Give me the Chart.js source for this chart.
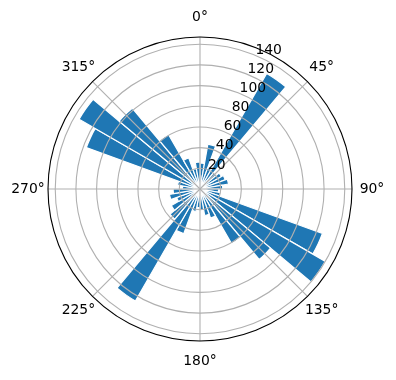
<!DOCTYPE html>
<html>
<head>
<meta charset="utf-8">
<script src="https://cdn.jsdelivr.net/npm/chart.js@4/dist/chart.umd.min.js"></script>
<style>
html,body{margin:0;padding:0;background:#fff;}
canvas{display:block;}
</style>
</head>
<body>
<canvas id="c" width="396" height="380"></canvas>
<script>
// bin centres (degrees, clockwise from north)
const directions = [5,15,25,35,45,55,65,75,85,95,105,115,125,135,145,155,165,175,
                    185,195,205,215,225,235,245,255,265,275,285,295,305,315,325,335,345,355];
// bar heights
const counts = [25,44,22,129,20,24,26,28,22,18,20,126,140,89,61,30,26,20,
                18,22,46,125,38,32,24,30,26,17,22,117,135,102,61,32,20,26];
// radial ticks
const radialTicks = [20,40,60,80,100,120,140];
// angular ticks
const angleTicks = [0,45,90,135,180,225,270,315];
const angleLabels = ['0°','45°','90°','135°','180°','225°','270°','315°'];
const rMax = 147;
const rLabelAngle = 22.5;

const font = '13.9px "DejaVu Sans"';

const overlay = {
  id: 'overlay',
  afterDatasetsDraw(chart) {
    const s = chart.scales.r;
    const ctx = chart.ctx;
    const cx = s.xCenter, cy = s.yCenter;
    const R = s.getDistanceFromCenterForValue(rMax);
    ctx.save();
    // rings
    ctx.strokeStyle = '#b0b0b0';
    ctx.lineWidth = 1.1;
    radialTicks.forEach(v => {
      const r = s.getDistanceFromCenterForValue(v);
      ctx.beginPath();
      ctx.arc(cx, cy, r, 0, Math.PI * 2);
      ctx.stroke();
    });
    // angle lines
    angleTicks.forEach(d => {
      const a = (d - 90) * Math.PI / 180;
      ctx.beginPath();
      ctx.moveTo(cx, cy);
      ctx.lineTo(cx + R * Math.cos(a), cy + R * Math.sin(a));
      ctx.stroke();
    });
    // outer spine
    ctx.strokeStyle = '#000';
    ctx.lineWidth = 1.1;
    ctx.beginPath();
    ctx.arc(cx, cy, R, 0, Math.PI * 2);
    ctx.stroke();
    // radial tick labels
    ctx.fillStyle = '#000';
    ctx.font = font;
    ctx.textAlign = 'left';
    ctx.textBaseline = 'bottom';
    const la = (rLabelAngle - 90) * Math.PI / 180;
    radialTicks.forEach(v => {
      const r = s.getDistanceFromCenterForValue(v);
      ctx.fillText(String(v), cx + r * Math.cos(la), cy + r * Math.sin(la) + 2);
    });
    // angle labels
    ctx.textAlign = 'center';
    ctx.textBaseline = 'middle';
    angleTicks.forEach((d, i) => {
      const a = (d - 90) * Math.PI / 180;
      const rr = R + 20;
      ctx.fillText(angleLabels[i], cx + rr * Math.cos(a), cy + rr * Math.sin(a));
    });
    ctx.restore();
  }
};

new Chart(document.getElementById('c'), {
  type: 'polarArea',
  data: {
    labels: directions.map(d => d + '°'),
    datasets: [{
      data: counts,
      backgroundColor: '#1f77b4',
      borderColor: '#ffffff',
      borderWidth: 1.2
    }]
  },
  options: {
    responsive: false,
    animation: false,
    layout: { padding: { left: 48, right: 43, top: 37, bottom: 38 } },
    plugins: { legend: { display: false }, tooltip: { enabled: false } },
    scales: {
      r: {
        min: 0,
        max: rMax,
        startAngle: 0,
        ticks: { display: false },
        grid: { display: false },
        angleLines: { display: false },
        pointLabels: { display: false }
      }
    }
  },
  plugins: [overlay]
});
</script>
</body>
</html>
